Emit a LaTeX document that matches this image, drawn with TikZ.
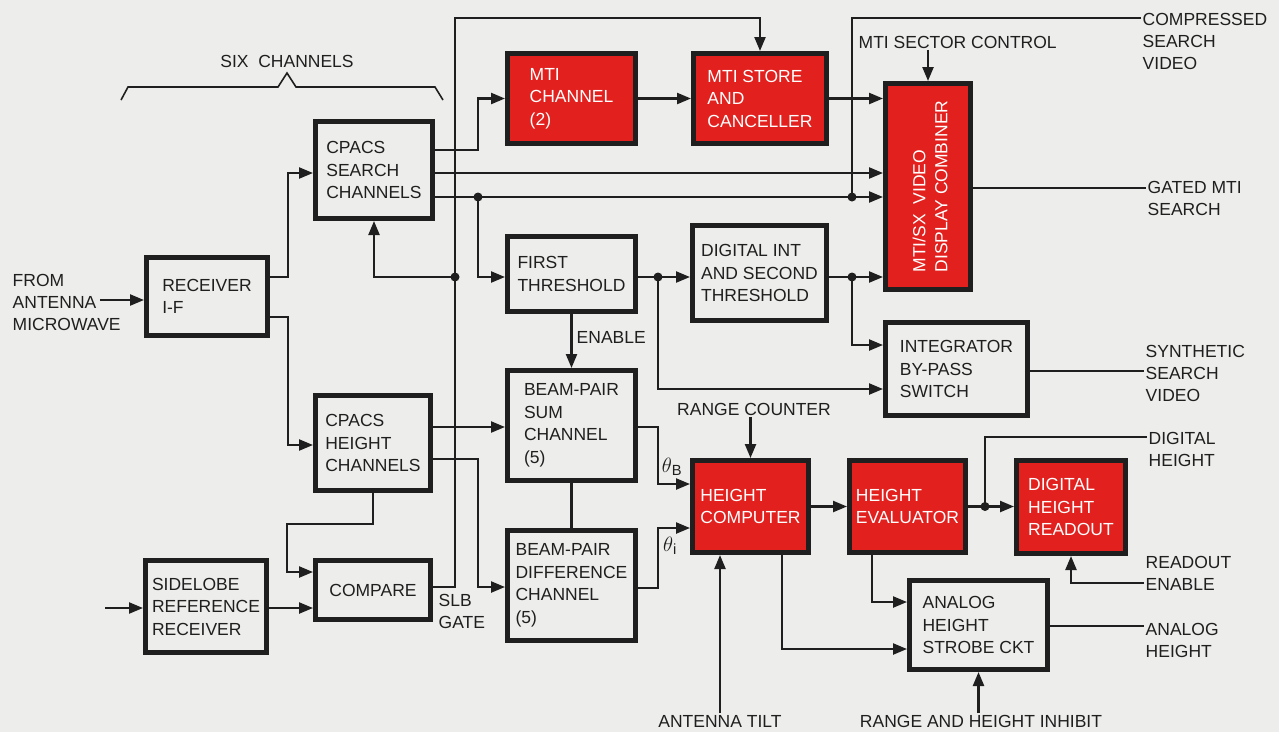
\documentclass[tikz,border=0pt]{standalone}
\usepackage{fontspec}
\setmainfont{Liberation Sans}
\usetikzlibrary{arrows.meta}
\definecolor{paper}{HTML}{EDEEEB}
\definecolor{ink}{HTML}{1F1F1F}
\definecolor{radar}{HTML}{E2211F}
\tikzset{
	box/.style={draw=ink, line width=5pt, fill=paper, text=ink, align=left, inner sep=0pt, font=\fontsize{17.5}{22.5}\selectfont},
	redbox/.style={box, fill=radar, text=white},
	lbl/.style={text=ink, align=left, inner sep=1.5pt, font=\fontsize{17.5}{22}\selectfont},
	wire/.style={draw=ink, line width=2.3pt},
	arr/.style={wire, -{Triangle[length=14pt,width=11pt]}},
}
\begin{document}
\begin{tikzpicture}[x=1pt, y=-1pt]
	\path[use as bounding box, fill=paper] (0, 0) rectangle (1279, 732) ;
	% receivers and channels
		\node (recv)[box, minimum width=121, minimum height=78] at (207, 296.5) {RECEIVER\\I-F} ;
		\node (sidelobe)[box, minimum width=121, minimum height=92] at (206, 606.5) {SIDELOBE\\REFERENCE\\RECEIVER} ;
		\node (search)[box, minimum width=117, minimum height=97] at (374, 170) {CPACS\\SEARCH\\CHANNELS} ;
		\node (hgtch)[box, minimum width=115, minimum height=95] at (373, 443) {CPACS\\HEIGHT\\CHANNELS} ;
		\node (compare)[box, minimum width=115, minimum height=59] at (373, 590) {COMPARE} ;
	% search path
		\node (mtich)[redbox, minimum width=128, minimum height=90] at (571.5, 98.5) {MTI\\CHANNEL\\(2)} ;
		\node (mtistore)[redbox, minimum width=133, minimum height=90] at (760, 98.5) {MTI STORE\\AND\\CANCELLER} ;
		\node (combiner)[redbox, minimum width=85, minimum height=206] at (928, 186.5) {} ;
		\node (combtxt)[lbl, rotate=90, text=white] at (930, 186.5) {MTI/SX\ \ VIDEO\\DISPLAY COMBINER} ;
		\node (first)[box, minimum width=128, minimum height=75] at (571.5, 274) {FIRST\\THRESHOLD} ;
		\node (digint)[box, minimum width=134, minimum height=95] at (759.5, 273) {DIGITAL INT\\AND SECOND\\THRESHOLD} ;
		\node (integ)[box, minimum width=142, minimum height=93] at (956.5, 369) {INTEGRATOR\\BY-PASS\\SWITCH} ;
	% height path
		\node (sum)[box, minimum width=128, minimum height=110] at (571.5, 425.5) {BEAM-PAIR\\SUM\\CHANNEL\\(5)} ;
		\node (diff)[box, minimum width=128, minimum height=110] at (571.5, 585.5) {BEAM-PAIR\\DIFFERENCE\\CHANNEL\\(5)} ;
		\node (hcomp)[redbox, minimum width=116, minimum height=92] at (750.5, 506.5) {HEIGHT\\COMPUTER} ;
		\node (heval)[redbox, minimum width=116, minimum height=92] at (907.5, 506.5) {HEIGHT\\EVALUATOR} ;
		\node (readout)[redbox, minimum width=109, minimum height=93] at (1071, 507) {DIGITAL\\HEIGHT\\READOUT} ;
		\node (analog)[box, minimum width=138, minimum height=89] at (978.5, 625) {ANALOG\\HEIGHT\\STROBE CKT} ;
	% labels
		\node (antenna)[lbl, anchor=west] at (11, 302) {FROM\\ANTENNA\\MICROWAVE} ;
		\node (sixch)[lbl] at (287, 61) {SIX\ \ CHANNELS} ;
		\node (sector)[lbl, anchor=west] at (857, 42) {MTI SECTOR CONTROL} ;
		\node (cmpv)[lbl, anchor=west] at (1141, 41) {COMPRESSED\\SEARCH\\VIDEO} ;
		\node (gated)[lbl, anchor=west] at (1146, 198) {GATED MTI\\SEARCH} ;
		\node (synth)[lbl, anchor=west] at (1144, 373) {SYNTHETIC\\SEARCH\\VIDEO} ;
		\node (dheight)[lbl, anchor=west] at (1147, 449) {DIGITAL\\HEIGHT} ;
		\node (renable)[lbl, anchor=west] at (1144, 573) {READOUT\\ENABLE} ;
		\node (aheight)[lbl, anchor=west] at (1144, 640) {ANALOG\\HEIGHT} ;
		\node (rcount)[lbl] at (754, 409) {RANGE COUNTER} ;
		\node (tilt)[lbl] at (720, 721) {ANTENNA TILT} ;
		\node (inhibit)[lbl] at (981, 721) {RANGE AND HEIGHT INHIBIT} ;
		\node (slb)[lbl, anchor=west] at (437, 611) {SLB\\GATE} ;
		\node (enable)[lbl, anchor=west] at (575, 337) {ENABLE} ;
		\node (thb)[lbl, font=\fontsize{21}{24}\selectfont] at (672, 467) {$\theta$\textsubscript{B}} ;
		\node (thi)[lbl, font=\fontsize{21}{24}\selectfont] at (670, 546) {$\theta$\textsubscript{i}} ;
	% brace over the channels
	\draw[ink, line width=1.6pt] (121, 100) -- (128, 87) -- (278, 87) -- (287, 73) -- (296, 87) -- (435, 87) -- (443, 100) ;
	% junctions
	\coordinate (ant) at (100, 300) ;
	\coordinate (slin) at (105, 608) ;
	\coordinate (jt) at (478, 197) ;
	\coordinate (jc) at (852, 197) ;
	\coordinate (js) at (455, 277) ;
	\coordinate (jf) at (658, 277) ;
	\coordinate (jd) at (852, 277) ;
	\coordinate (jh) at (985, 506.5) ;
	% front end
	\draw[arr] (ant) -- (recv.west |- ant) ;
	\draw[arr] (slin) -- (sidelobe.west |- slin) ;
	\draw[arr] (recv.east |- 0,277) -- (288,277) |- (search.west |- 0,173) ;
	\draw[arr] (recv.east |- 0,317) -- (288,317) |- (hgtch.west |- 0,445) ;
	\draw[arr] (hgtch.south) |- (287,524) |- (compare.west |- 0,572) ;
	\draw[arr] (sidelobe.east |- slin) -- (compare.west |- slin) ;
	\draw[arr] (compare.east |- 0,587) -- (455,587) -- (455,18) -| (mtistore.north) ;
	\draw[arr] (js) -| (search.south) ;
	% search video
	\draw[arr] (search.east |- 0,150) -- (478,150) |- (mtich.west) ;
	\draw[arr] (mtich) -- (mtistore) ;
	\draw[arr] (mtistore) -- (combiner.west |- mtistore) ;
	\draw[arr] (search.east |- 0,173) -- (combiner.west |- 0,173) ;
	\draw[arr] (search.east |- jt) -- (combiner.west |- jt) ;
	\draw[wire] (jc) -- (852,18) -- (cmpv.west |- 0,18) ;
	\draw[arr] (combiner.north |- sector.south) -- (combiner.north) ;
	\draw[wire] (combiner.east |- 0,188) -- (gated.west |- 0,188) ;
	\draw[arr] (jt) |- (first.west |- jf) ;
	\draw[arr] (first.east |- jf) -- (digint.west |- jf) ;
	\draw[arr] (digint.east |- jd) -- (combiner.west |- jd) ;
	\draw[arr] (jd) |- (integ.west |- 0,345) ;
	\draw[arr] (jf) |- (integ.west |- 0,389) ;
	\draw[wire] (integ.east |- 0,371) -- (synth.west |- 0,371) ;
	% height
	\draw[arr] (first) -- (sum) ;
	\draw[wire] (sum) -- (diff) ;
	\draw[arr] (hgtch.east |- 0,427) -- (sum.west |- 0,427) ;
	\draw[arr] (hgtch.east |- 0,459) -- (478,459) |- (diff.west |- 0,587) ;
	\draw[arr] (sum.east |- 0,427) -- (658,427) |- (hcomp.west |- 0,484) ;
	\draw[arr] (diff.east |- 0,588) -- (658,588) |- (hcomp.west |- 0,528) ;
	\draw[arr] (hcomp.north |- rcount.south) -- (hcomp.north) ;
	\draw[arr] (tilt.north) -- (tilt.north |- hcomp.south) ;
	\draw[arr] (hcomp) -- (heval) ;
	\draw[arr] ([xshift=31.5pt]hcomp.south) |- (analog.west |- 0,649) ;
	\draw[arr] (heval.east |- jh) -- (readout.west |- jh) ;
	\draw[wire] (jh) |- (dheight.west |- 0,437) ;
	\draw[arr] (renable.west |- 0,583) -| (readout.south) ;
	\draw[arr] ([xshift=-35.5pt]heval.south) |- (analog.west |- 0,602) ;
	\draw[wire] (analog.east |- 0,626) -- (aheight.west |- 0,626) ;
	\draw[arr] (analog.south |- inhibit.north) -- (analog.south) ;
	% dots
	\fill[ink] (jt) circle (4.5pt) ;
	\fill[ink] (jc) circle (4.5pt) ;
	\fill[ink] (js) circle (4.5pt) ;
	\fill[ink] (jf) circle (4.5pt) ;
	\fill[ink] (jd) circle (4.5pt) ;
	\fill[ink] (jh) circle (4.5pt) ;
\end{tikzpicture}
\end{document}
